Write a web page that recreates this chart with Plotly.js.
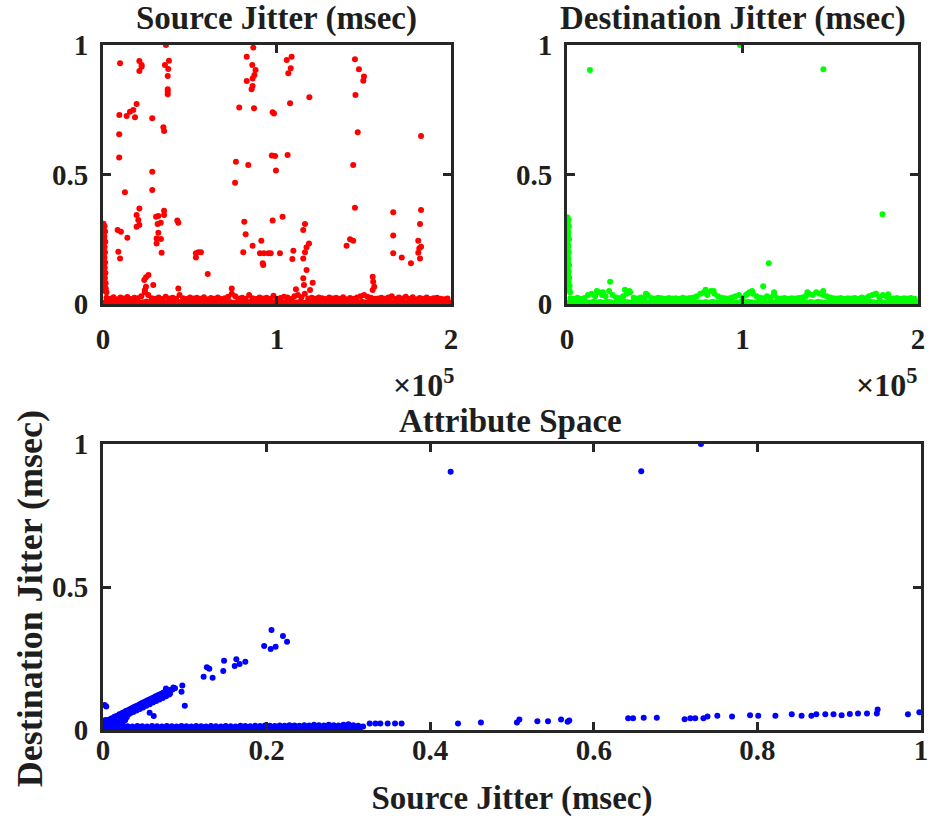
<!DOCTYPE html>
<html><head><meta charset="utf-8">
<script src="https://cdn.plot.ly/plotly-3.0.1.min.js"></script>
<style>html,body{margin:0;padding:0;background:#fff}#chart{width:932px;height:824px}</style>
</head><body><div id="chart"></div><script>
// ---------- Source jitter vs sample index (red) ----------
const srcOutX = [36200,9800,20900,22200,20900,22200,35600,37900,37500,37200,37200,37200,37200,19300,9400,13600,15500,17400,18400,28300,9300,34700,35100,9300,28300,12600,28300,8400,10300,14000,8800,9800,20900,19300,20300,19300,20900,30500,31800,35100,35100,31400,33200,31800,30800,33300,30800,33700,42700,43300,53400,54800,56300,53400,60200,26100,24700,23700,28900,24700,24100,43300,74000,82600,86400,85800,87700,87000,86000,82600,85400,86000,78300,86800,97500,98300,105600,108400,107900,106500,107500,118600,76400,83500,75900,97000,98900,99400,106100,81200,82000,80600,86000,91000,90200,92500,95000,96400,92100,91800,97500,101700,103200,116100,115100,118400,117000,116100,115100,109400,108800,117000,115100,120500,115500,110900,119000,144800,147100,150000,149600,145100,146400,143800,144800,142000,143800,140000,155000,155300,155900,155000,166800,166800,166800,171700,177000,182800,182800,182200,181200,182800,181800,181200,182200];
const srcOutY = [1.0,0.93,0.938,0.923,0.90,0.916,0.923,0.939,0.907,0.880,0.829,0.81,0.82,0.772,0.730,0.726,0.742,0.749,0.721,0.717,0.655,0.682,0.668,0.566,0.511,0.431,0.440,0.286,0.279,0.256,0.202,0.176,0.369,0.344,0.324,0.298,0.305,0.337,0.340,0.360,0.344,0.309,0.314,0.275,0.253,0.251,0.234,0.198,0.322,0.314,0.196,0.2,0.2,0.18,0.116,0.112,0.103,0.093,0.073,0.067,0.054,0.06,0.06,0.955,0.990,0.923,0.903,0.884,0.871,0.861,0.829,0.842,0.759,0.756,0.740,0.736,0.942,0.955,0.910,0.891,0.775,0.798,0.549,0.537,0.468,0.573,0.571,0.515,0.575,0.318,0.269,0.2,0.225,0.244,0.196,0.196,0.196,0.196,0.151,0.157,0.322,0.196,0.337,0.309,0.286,0.234,0.219,0.2,0.176,0.206,0.174,0.131,0.099,0.082,0.073,0.057,0.054,0.945,0.906,0.878,0.862,0.807,0.663,0.537,0.372,0.25,0.244,0.225,0.105,0.086,0.067,0.054,0.354,0.264,0.196,0.180,0.157,0.649,0.363,0.309,0.244,0.221,0.215,0.198,0.176];
const srcSpikeX = [300,900,500,1200,300,800,600,1300,400,900,500,1100,300,800,600,1200,400,1000,700,1400,500,1100,800,1500,900,1600,1200,2000];
const srcSpikeY = [0.31,0.30,0.285,0.28,0.265,0.26,0.245,0.24,0.225,0.22,0.205,0.2,0.185,0.18,0.165,0.16,0.145,0.14,0.125,0.12,0.105,0.1,0.085,0.08,0.065,0.06,0.05,0.045];
const bandX = [1000,2000,3000,4000,5000,6000,7000,8000,9000,10000,11000,12000,13000,14000,15000,16000,17000,18000,19000,20000,21000,22000,23000,24000,25000,26000,27000,28000,29000,30000,31000,32000,33000,34000,35000,36000,37000,38000,39000,40000,41000,42000,43000,44000,45000,46000,47000,48000,49000,50000,51000,52000,53000,54000,55000,56000,57000,58000,59000,60000,61000,62000,63000,64000,65000,66000,67000,68000,69000,70000,71000,72000,73000,74000,75000,76000,77000,78000,79000,80000,81000,82000,83000,84000,85000,86000,87000,88000,89000,90000,91000,92000,93000,94000,95000,96000,97000,98000,99000,100000,101000,102000,103000,104000,105000,106000,107000,108000,109000,110000,111000,112000,113000,114000,115000,116000,117000,118000,119000,120000,121000,122000,123000,124000,125000,126000,127000,128000,129000,130000,131000,132000,133000,134000,135000,136000,137000,138000,139000,140000,141000,142000,143000,144000,145000,146000,147000,148000,149000,150000,151000,152000,153000,154000,155000,156000,157000,158000,159000,160000,161000,162000,163000,164000,165000,166000,167000,168000,169000,170000,171000,172000,173000,174000,175000,176000,177000,178000,179000,180000,181000,182000,183000,184000,185000,186000,187000,188000,189000,190000,191000,192000,193000,194000,195000,196000,197000,198000,199000];
const srcBandY = [0.006,0.024,0.008,0.02,0.005,0.026,0.009,0.018,0.006,0.025,0.007,0.021,0.005,0.027,0.008,0.019,0.006,0.024,0.009,0.022,0.005,0.03,0.007,0.045,0.01,0.035,0.006,0.022,0.008,0.02,0.006,0.025,0.009,0.019,0.005,0.028,0.007,0.021,0.006,0.024,0.008,0.02,0.005,0.035,0.009,0.022,0.006,0.019,0.008,0.025,0.006,0.021,0.007,0.024,0.005,0.02,0.009,0.026,0.006,0.018,0.008,0.023,0.005,0.02,0.007,0.025,0.006,0.019,0.009,0.022,0.006,0.028,0.008,0.04,0.005,0.03,0.007,0.021,0.006,0.024,0.008,0.02,0.005,0.035,0.009,0.022,0.006,0.019,0.008,0.025,0.006,0.021,0.007,0.024,0.005,0.02,0.009,0.032,0.006,0.018,0.008,0.023,0.005,0.028,0.007,0.025,0.006,0.019,0.009,0.03,0.006,0.035,0.008,0.026,0.005,0.04,0.007,0.021,0.006,0.024,0.008,0.02,0.005,0.025,0.009,0.022,0.006,0.019,0.008,0.025,0.006,0.021,0.007,0.024,0.005,0.02,0.009,0.026,0.006,0.018,0.008,0.023,0.005,0.02,0.007,0.025,0.006,0.03,0.009,0.035,0.006,0.028,0.008,0.024,0.005,0.02,0.007,0.021,0.006,0.024,0.008,0.02,0.005,0.025,0.009,0.03,0.006,0.019,0.008,0.025,0.006,0.021,0.007,0.028,0.005,0.02,0.009,0.026,0.006,0.018,0.008,0.023,0.005,0.02,0.007,0.025,0.006,0.019,0.009,0.022,0.006,0.024,0.008,0.02,0.005,0.018,0.007,0.021,0.006];

// ---------- Destination jitter vs sample index (green) ----------
const dstOutX = [13100,98500,146100,179800,115000,111800,24600,17000,20500,33000,35500,45000,79000,83500,103000,105500,118000,137000,146000,176000,183000];
const dstOutY = [0.903,1.0,0.906,0.347,0.157,0.069,0.086,0.05,0.045,0.055,0.05,0.04,0.055,0.05,0.04,0.05,0.045,0.045,0.05,0.04,0.038];
const dstSpikeX = [300,900,500,1100,400,800,600,1200,300,900,500,1000,400,800,600,1200,500,1000,700,1300,900,1500,1200,1800];
const dstSpikeY = [0.335,0.325,0.31,0.30,0.285,0.275,0.26,0.25,0.235,0.225,0.21,0.2,0.185,0.175,0.16,0.15,0.135,0.125,0.11,0.1,0.085,0.07,0.055,0.045];
const dstBandY = [0.006,0.022,0.008,0.02,0.006,0.024,0.009,0.019,0.006,0.023,
 0.008,0.035,0.006,0.04,0.009,0.03,0.006,0.045,0.008,0.035,
 0.006,0.03,0.009,0.05,0.007,0.035,0.006,0.025,0.008,0.022,
 0.006,0.03,0.009,0.04,0.007,0.045,0.006,0.024,0.008,0.021,
 0.006,0.025,0.009,0.022,0.007,0.035,0.006,0.023,0.008,0.021,
 0.006,0.024,0.009,0.022,0.007,0.02,0.006,0.023,0.008,0.021,
 0.006,0.022,0.009,0.02,0.007,0.024,0.006,0.021,0.008,0.023,
 0.006,0.025,0.009,0.03,0.007,0.04,0.006,0.045,0.008,0.035,
 0.006,0.05,0.009,0.04,0.007,0.03,0.006,0.024,0.008,0.022,
 0.006,0.021,0.009,0.025,0.007,0.03,0.006,0.035,0.008,0.024,
 0.006,0.035,0.009,0.045,0.007,0.04,0.006,0.03,0.008,0.024,
 0.006,0.022,0.009,0.03,0.007,0.025,0.006,0.035,0.008,0.022,
 0.006,0.021,0.009,0.023,0.007,0.02,0.006,0.022,0.008,0.021,
 0.006,0.023,0.009,0.025,0.007,0.03,0.006,0.04,0.008,0.035,
 0.006,0.045,0.009,0.04,0.007,0.035,0.006,0.03,0.008,0.025,
 0.006,0.022,0.009,0.021,0.007,0.023,0.006,0.02,0.008,0.022,
 0.006,0.021,0.009,0.023,0.007,0.02,0.006,0.025,0.008,0.022,
 0.006,0.03,0.009,0.035,0.007,0.04,0.006,0.025,0.008,0.035,
 0.006,0.03,0.009,0.022,0.007,0.021,0.006,0.023,0.008,0.02,
 0.006,0.022,0.009,0.021,0.007,0.023,0.006,0.02,0.008];

// ---------- Attribute space (blue) ----------
const attBandX = [0.003,0.006,0.009,0.012,0.015,0.018,0.021,0.024,0.027,0.03,0.033,0.036,0.039,0.042,0.045,0.048,0.051,0.054,0.057,0.06,0.063,0.066,0.069,0.072,0.075,0.078,0.081,0.084,0.087,0.09,0.093,0.096,0.099,0.102,0.105,0.108,0.111,0.114,0.117,0.12,0.123,0.126,0.129,0.132,0.135,0.138,0.141,0.144,0.147,0.15,0.153,0.156,0.159,0.162,0.165,0.168,0.171,0.174,0.177,0.18,0.183,0.186,0.189,0.192,0.195,0.198,0.201,0.204,0.207,0.21,0.213,0.216,0.219,0.222,0.225,0.228,0.231,0.234,0.237,0.24,0.243,0.246,0.249,0.252,0.255,0.258,0.261,0.264,0.267,0.27,0.273,0.276,0.279,0.282,0.285,0.288,0.291,0.294,0.297,0.3,0.303,0.306,0.309,0.312];
const attBandY = [0.005,0.014,0.004,0.013,0.006,0.012,0.004,0.014,0.005,0.013,0.004,0.012,0.006,0.014,0.005,0.013,0.004,0.012,0.005,0.014,0.006,0.013,0.004,0.012,0.005,0.014,0.004,0.013,0.006,0.012,0.005,0.014,0.004,0.013,0.005,0.012,0.006,0.014,0.004,0.013,0.005,0.012,0.004,0.014,0.006,0.013,0.005,0.012,0.004,0.014,0.005,0.013,0.006,0.012,0.004,0.015,0.005,0.014,0.004,0.013,0.006,0.015,0.005,0.014,0.004,0.016,0.005,0.015,0.006,0.014,0.004,0.016,0.005,0.015,0.004,0.017,0.006,0.016,0.005,0.015,0.004,0.017,0.005,0.016,0.006,0.018,0.004,0.017,0.005,0.016,0.004,0.018,0.006,0.017,0.005,0.016,0.004,0.018,0.005,0.02,0.006,0.017,0.004,0.015];
const attDiagX = [0.004,0.006,0.008,0.010,0.012,0.014,0.016,0.018,0.020,0.022,0.024,0.026,0.028,0.030,0.032,0.034,0.036,0.038,0.040,0.042,0.044,0.046,0.048,0.050,0.052,0.054,0.056,0.058,0.060,0.062,0.064,0.066,0.068,0.070,0.072,0.074,0.076,0.078,0.080,0.082,0.085,0.088,0.005,0.009,0.013,0.017,0.021,0.025,0.029,0.033,0.037,0.041,0.045,0.049,0.053,0.057,0.061,0.065,0.069,0.073,0.077,0.081];
const attDiagY = [0.031,0.034,0.036,0.040,0.041,0.046,0.048,0.050,0.055,0.056,0.060,0.062,0.066,0.068,0.071,0.074,0.077,0.080,0.083,0.085,0.088,0.092,0.094,0.097,0.100,0.103,0.105,0.108,0.111,0.114,0.117,0.120,0.122,0.125,0.128,0.131,0.133,0.135,0.138,0.140,0.142,0.146,0.020,0.025,0.031,0.036,0.041,0.047,0.052,0.058,0.063,0.068,0.073,0.079,0.085,0.090,0.096,0.101,0.107,0.112,0.118,0.124];
const attClusterX = [0.001,0.002,0.003,0.004,0.006,0.007,0.009,0.011,0.013,0.015,0.017,0.019,0.021,0.023,0.025,0.027,0.003,0.008,0.012,0.016,0.02,0.024,0.029,0.031];
const attClusterY = [0.012,0.025,0.018,0.008,0.022,0.013,0.028,0.018,0.03,0.022,0.035,0.027,0.038,0.03,0.042,0.034,0.035,0.032,0.012,0.014,0.016,0.02,0.045,0.055];
const attOutX = [0.002,0.004,0.425,0.206,0.220,0.225,0.197,0.205,0.211,0.127,0.130,0.123,0.134,0.148,0.147,0.163,0.167,0.161,0.174,0.086,0.097,0.096,0.100,0.057,0.062,0.077,0.082,0.314,0.318,0.326,0.333,0.339,0.348,0.357,0.365,0.434,0.462,0.506,0.509,0.531,0.544,0.560,0.568,0.570,0.642,0.648,0.661,0.677,0.711,0.718,0.724,0.734,0.739,0.751,0.769,0.791,0.801,0.822,0.842,0.854,0.866,0.872,0.883,0.893,0.903,0.913,0.923,0.934,0.946,0.947,0.984,0.998,0.731,0.658];
const attOutY = [0.087,0.082,0.903,0.35,0.329,0.309,0.294,0.283,0.291,0.219,0.214,0.186,0.183,0.242,0.206,0.247,0.231,0.224,0.239,0.149,0.156,0.134,0.085,0.06,0.049,0.145,0.128,0.006,0.012,0.023,0.023,0.023,0.023,0.023,0.023,0.023,0.026,0.026,0.037,0.031,0.031,0.037,0.029,0.033,0.041,0.041,0.043,0.043,0.038,0.041,0.041,0.041,0.047,0.050,0.047,0.052,0.05,0.05,0.055,0.05,0.05,0.055,0.055,0.055,0.052,0.056,0.058,0.058,0.058,0.072,0.055,0.062,1.0,0.905];

// ---------- ticks and texts ----------
const idxTickVals = [0,100000,200000];
const idxTickText = ['0','1','2'];
const jitTickVals = [0,0.5,1];
const jitTickText = ['0','0.5','1'];
const attTickVals = [0,0.2,0.4,0.6,0.8,1];
const attTickText = ['0','0.2','0.4','0.6','0.8','1'];
const titles = ['Source Jitter (msec)','Destination Jitter (msec)','Attribute Space'];
const xLabel = 'Source Jitter (msec)';
const yLabel = 'Destination Jitter (msec)';
const expLabel = '×10<sup>5</sup>';

const FONT = 'Liberation Serif, "Times New Roman", serif';
const INK = '#1e1e1e';
const FRAME = '#262626';

function mk(x,y,color,xa,ya){
  return {type:'scatter',mode:'markers',x:x,y:y,xaxis:xa,yaxis:ya,cliponaxis:false,
    marker:{color:color,size:6,line:{width:0}},hoverinfo:'skip',showlegend:false};
}
const data = [
  mk(bandX,srcBandY,'#ff0000','x','y'),
  mk(srcSpikeX,srcSpikeY,'#ff0000','x','y'),
  mk(srcOutX,srcOutY,'#ff0000','x','y'),
  mk(bandX,dstBandY,'#00ff00','x2','y2'),
  mk(dstSpikeX,dstSpikeY,'#00ff00','x2','y2'),
  mk(dstOutX,dstOutY,'#00ff00','x2','y2'),
  mk(attBandX,attBandY,'#0000ff','x3','y3'),
  mk(attClusterX,attClusterY,'#0000ff','x3','y3'),
  mk(attDiagX,attDiagY,'#0000ff','x3','y3'),
  mk(attOutX,attOutY,'#0000ff','x3','y3')
];

function ax(extra){
  return Object.assign({
    showline:true, mirror:'ticks', linecolor:FRAME, linewidth:3,
    ticks:'inside', ticklen:8, tickwidth:3, tickcolor:FRAME,
    showgrid:false, zeroline:false, fixedrange:true,
    tickmode:'array',
    tickfont:{family:FONT,size:29,color:INK,weight:'bold'}
  }, extra);
}
const tfont = {family:FONT,size:33,color:INK,weight:'bold'};

const layout = {
  width:932, height:824,
  margin:{l:103,r:11,t:45,b:94},
  paper_bgcolor:'#ffffff', plot_bgcolor:'#ffffff',
  font:{family:FONT,color:INK,weight:'bold'},
  xaxis: ax({domain:[0,0.4254],range:[0,200000],tickvals:idxTickVals,ticktext:idxTickText,anchor:'y',ticklabelstandoff:7}),
  yaxis: ax({domain:[0.6219,1],range:[0,1],tickvals:jitTickVals,ticktext:jitTickText,anchor:'x',ticklabelstandoff:6}),
  xaxis2: ax({domain:[0.5672,0.9963],range:[0,200000],tickvals:idxTickVals,ticktext:idxTickText,anchor:'y2',ticklabelstandoff:7}),
  yaxis2: ax({domain:[0.6219,1],range:[0,1],tickvals:jitTickVals,ticktext:jitTickText,anchor:'x2',ticklabelstandoff:6}),
  xaxis3: ax({domain:[0,1],range:[0,1],tickvals:attTickVals,ticktext:attTickText,anchor:'y3',ticklabelstandoff:-8,
    title:{text:xLabel,font:tfont,standoff:22}}),
  yaxis3: ax({domain:[0,0.4175],range:[0,1],tickvals:jitTickVals,ticktext:jitTickText,anchor:'x3',ticklabelstandoff:6}),
  annotations:[
    {text:titles[0],xref:'paper',yref:'paper',x:0.2127,y:1.038,xanchor:'center',yanchor:'middle',showarrow:false,font:tfont},
    {text:titles[1],xref:'paper',yref:'paper',x:0.77,y:1.038,xanchor:'center',yanchor:'middle',showarrow:false,font:tfont},
    {text:titles[2],xref:'paper',yref:'paper',x:0.4976,y:0.4511,xanchor:'center',yanchor:'middle',showarrow:false,font:tfont},
    {text:yLabel,xref:'paper',yref:'paper',x:-0.0892,y:0.191,xanchor:'center',yanchor:'middle',textangle:-90,showarrow:false,font:{family:FONT,size:36,color:INK,weight:'bold'}},
    {text:expLabel,xref:'paper',yref:'paper',x:0.431,y:0.506,xanchor:'right',yanchor:'middle',showarrow:false,font:{family:FONT,size:32,color:INK,weight:'bold'}},
    {text:expLabel,xref:'paper',yref:'paper',x:0.9975,y:0.506,xanchor:'right',yanchor:'middle',showarrow:false,font:{family:FONT,size:32,color:INK,weight:'bold'}}
  ]
};

Plotly.newPlot('chart', data, layout, {displayModeBar:false, staticPlot:true});
</script></body></html>
